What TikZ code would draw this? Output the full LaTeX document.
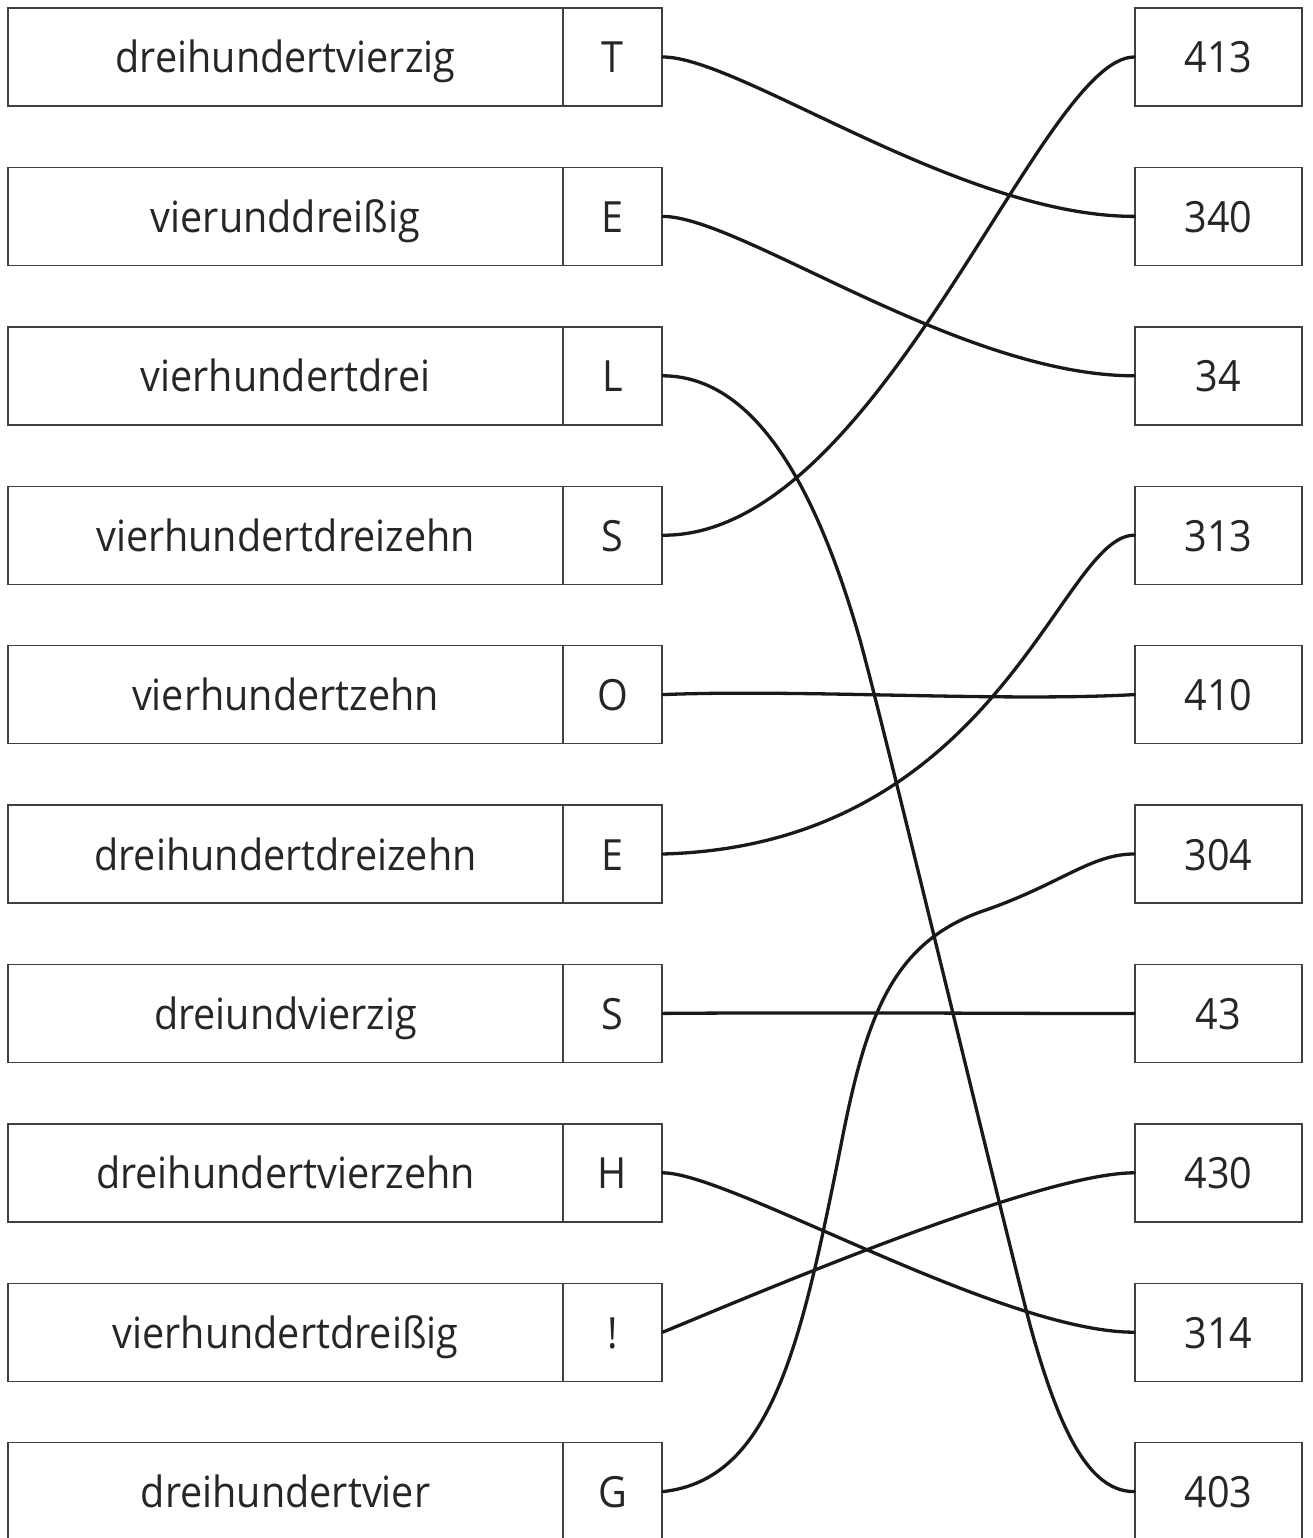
\documentclass[tikz,border=0pt]{standalone}
\usepackage{fontspec}
\setmainfont{Open Sans}[FakeStretch=0.92]
\begin{document}
\begin{tikzpicture}[x=1pt,y=-1pt,
  box/.style={draw=black!75,line width=1.4pt,minimum height=98pt,inner sep=0pt,
    text height=40pt,text depth=8pt,
    font=\fontsize{43}{50}\selectfont,text=black!85},
  namebox/.style={box,minimum width=555pt},
  letterbox/.style={box,minimum width=99pt},
  numbox/.style={box,minimum width=167pt},
  link/.style={line width=3.3pt,black!90,line cap=round}]
\useasboundingbox (0,0) rectangle (1312,1538);
\foreach \i/\w/\l/\n in {1/dreihundertvierzig/T/413,2/vierunddreißig/E/340,3/vierhundertdrei/L/34,
  4/vierhundertdreizehn/S/313,5/vierhundertzehn/O/410,6/dreihundertdreizehn/E/304,
  7/dreiundvierzig/S/43,8/dreihundertvierzehn/H/430,9/vierhundertdreißig/!/314,10/dreihundertvier/G/403}{
  \pgfmathsetmacro{\yy}{57+159.4*(\i-1)}
  \node[namebox] (w\i) at (285.5,\yy) {\w};
  \node[letterbox] (l\i) at (612.5,\yy) {\l};
  \node[numbox] (n\i) at (1218.5,\yy) {\n};
}
% T -> 340
\draw[link] (l1.east) .. controls (740,57) and (960,216.4) .. (n2.west);
% E -> 34
\draw[link] (l2.east) .. controls (740,216.4) and (960,375.8) .. (n3.west);
% L -> 403
\draw[link] (l3.east) .. controls (760,376) and (820,500) .. (860,640)
  .. controls (885,730) and (1000,1210) .. (1030,1325)
  .. controls (1060,1434) and (1090,1491.6) .. (n10.west);
% S -> 413
\draw[link] (l4.east) .. controls (880,537) and (1040,57) .. (n1.west);
% O -> 410
\draw[link] (l5.east) .. controls (800,689) and (1000,702) .. (n5.west);
% E -> 313
\draw[link] (l6.east) .. controls (1000,845) and (1060,535.2) .. (n4.west);
% S -> 43
\draw[link] (l7.east) .. controls (850,1012) and (1080,1014) .. (n7.west);
% H -> 314
\draw[link] (l8.east) .. controls (730,1172.8) and (1000,1332.2) .. (n9.west);
% ! -> 430
\draw[link] (l9.east) .. controls (760,1292) and (1040,1172.8) .. (n8.west);
% G -> 304
\draw[link] (l10.east) .. controls (770,1480) and (800,1350) .. (840,1150)
  .. controls (865,1020) and (890,945) .. (980,912)
  .. controls (1060,885) and (1090,854) .. (n6.west);
\end{tikzpicture}
\end{document}
